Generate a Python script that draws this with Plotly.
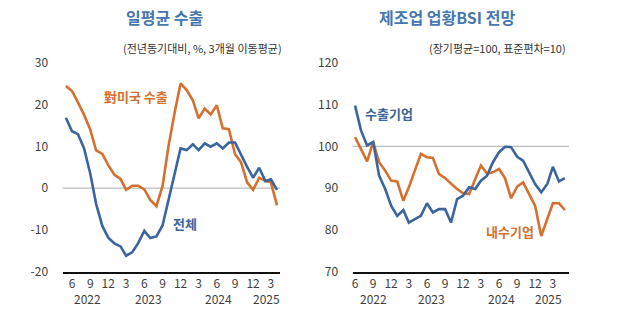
import plotly.graph_objects as go
import pandas as pd

# ---- data ----
months_left = pd.date_range("2022-05-01", periods=36, freq="MS").strftime("%Y-%m-%d").tolist()
months_right = pd.date_range("2022-06-01", periods=36, freq="MS").strftime("%Y-%m-%d").tolist()

us_exports = [24.4, 23.2, 20.5, 17.5, 14.0, 9.0, 8.2, 5.5, 3.2, 2.2, -0.4, 0.6,
              0.6, -0.3, -2.8, -4.3, 0.5, 10.0, 18.0, 25.0, 23.4, 21.0, 16.7, 19.0,
              17.6, 19.8, 14.3, 14.1, 8.1, 6.2, 1.4, -0.4, 2.5, 1.7, 1.4, -4.1]
total_exports = [16.8, 13.6, 12.9, 9.5, 3.5, -3.8, -9.0, -11.8, -13.2, -13.9, -16.1, -15.3,
                 -13.1, -10.2, -11.9, -11.5, -8.9, -3.0, 3.5, 9.5, 9.1, 10.5, 9.1, 10.7,
                 9.9, 10.7, 9.5, 10.9, 10.9, 7.9, 5.1, 2.5, 4.9, 1.7, 2.1, -0.4]

bsi_export = [109.7, 103.8, 100.2, 101.0, 93.0, 89.8, 85.8, 83.4, 84.8, 81.8, 82.6, 83.4,
              86.4, 84.2, 85.0, 85.0, 81.8, 87.4, 88.2, 90.2, 89.8, 91.8, 93.0, 96.2,
              98.6, 99.9, 99.8, 97.5, 96.6, 93.8, 91.0, 89.0, 91.0, 95.1, 91.6, 92.4]
bsi_domestic = [102.2, 99.4, 96.4, 101.0, 96.2, 94.2, 91.8, 91.6, 87.0, 90.2, 94.2, 98.2,
                97.4, 97.2, 93.4, 92.4, 91.1, 89.8, 88.8, 88.6, 92.2, 95.4, 93.5, 93.8,
                94.6, 92.4, 87.6, 90.4, 91.4, 88.6, 85.8, 78.6, 82.6, 86.4, 86.4, 84.8]

month_ticks = ["2022-06-01", "2022-09-01", "2022-12-01", "2023-03-01", "2023-06-01", "2023-09-01",
               "2023-12-01", "2024-03-01", "2024-06-01", "2024-09-01", "2024-12-01", "2025-03-01"]
month_tick_text = ["6", "9", "12", "3", "6", "9", "12", "3", "6", "9", "12", "3"]
year_labels = ["2022", "2023", "2024", "2025"]
year_pos_left = ["2022-08-20", "2023-06-20", "2024-06-10", "2025-02-05"]
year_pos_right = ["2022-09-01", "2023-06-25", "2024-06-15", "2025-02-05"]

left_ticks = [-20, -10, 0, 10, 20, 30]
left_tick_text = ["-20", "-10", "0", "10", "20", "30"]
right_ticks = [70, 80, 90, 100, 110, 120]
right_tick_text = ["70", "80", "90", "100", "110", "120"]
REF_LEFT = 0
REF_RIGHT = 100

BLUE = "#3b659c"
ORANGE = "#d5702e"
TITLE_BLUE = "#4677b0"
TXT = "#404040"
FONT = "Noto Sans CJK KR"

W, H = 618, 336
def px(x):
    return x / W
def py(y):
    return 1 - y / H

fig = go.Figure()
fig.add_trace(go.Scatter(x=months_left, y=us_exports, mode="lines",
                         line=dict(color=ORANGE, width=2.6), xaxis="x", yaxis="y"))
fig.add_trace(go.Scatter(x=months_left, y=total_exports, mode="lines",
                         line=dict(color=BLUE, width=2.6), xaxis="x", yaxis="y"))
fig.add_trace(go.Scatter(x=months_right, y=bsi_domestic, mode="lines",
                         line=dict(color=ORANGE, width=2.6), xaxis="x2", yaxis="y2"))
fig.add_trace(go.Scatter(x=months_right, y=bsi_export, mode="lines",
                         line=dict(color=BLUE, width=2.6), xaxis="x2", yaxis="y2"))

xcommon = dict(type="date", tickmode="array", tickvals=month_ticks, ticktext=month_tick_text,
               showgrid=False, zeroline=False, showline=True, linecolor="#111111", linewidth=2,
               ticks="", tickfont=dict(family=FONT, size=12, color=TXT), automargin=False,
               fixedrange=True)
ycommon = dict(showgrid=False, showline=False, tickmode="array",
               ticks="outside", ticklen=11, tickcolor="rgba(0,0,0,0)",
               tickfont=dict(family=FONT, size=12, color=TXT), automargin=False)

fig.update_layout(
    width=W, height=H, margin=dict(l=0, r=0, t=0, b=0),
    paper_bgcolor="white", plot_bgcolor="white", showlegend=False,
    template="none",
    xaxis=dict(domain=[px(62.5), px(280)], range=["2022-04-14", "2025-04-16"], anchor="y", **xcommon),
    yaxis=dict(domain=[py(272), py(62.5)], range=[-20, 30], tickvals=left_ticks,
               ticktext=left_tick_text, anchor="x", zeroline=False, **ycommon),
    xaxis2=dict(domain=[px(352.5), px(569)], range=["2022-05-19", "2025-05-22"], anchor="y2", **xcommon),
    yaxis2=dict(domain=[py(272), py(62.5)], range=[70, 120], tickvals=right_ticks,
                ticktext=right_tick_text, anchor="x2", zeroline=False, **ycommon),
)

fig.add_shape(type="line", xref="x domain", yref="y", x0=0, x1=1, y0=REF_LEFT, y1=REF_LEFT,
              line=dict(color="#bdbdbd", width=1.2), layer="below")
fig.add_shape(type="line", xref="x2 domain", yref="y2", x0=0, x1=1, y0=REF_RIGHT, y1=REF_RIGHT,
              line=dict(color="#bdbdbd", width=1.2), layer="below")

def note(text, x, y, size, color, xanchor="center", xref="paper"):
    return dict(text=text, x=x, y=y, xref=xref, yref="paper", xanchor=xanchor, yanchor="middle",
                showarrow=False, font=dict(family=FONT, size=size, color=color))

ann = [
    note("<b>일평균 수출</b>", px(165), py(17), 16, TITLE_BLUE),
    note("<b>제조업 업황BSI 전망</b>", px(447), py(17), 16, TITLE_BLUE),
    note("(전년동기대비, %, 3개월 이동평균)", px(284), py(48), 11, "#333333", "right"),
    note("(장기평균=100, 표준편차=10)", px(568), py(48), 11, "#333333", "right"),
    note("<b>對미국 수출</b>", px(102), py(97), 13, ORANGE, "left"),
    note("<b>전체</b>", px(171), py(223), 13, BLUE, "left"),
    note("<b>수출기업</b>", px(363), py(113), 13, BLUE, "left"),
    note("<b>내수기업</b>", px(484), py(231), 13, ORANGE, "left"),
]
for lbl, xl, xr in zip(year_labels, year_pos_left, year_pos_right):
    ann.append(note(lbl, xl, py(298), 12, TXT, "center", "x"))
    ann.append(note(lbl, xr, py(298), 12, TXT, "center", "x2"))
fig.update_layout(annotations=ann)

fig.write_html("out.html")
